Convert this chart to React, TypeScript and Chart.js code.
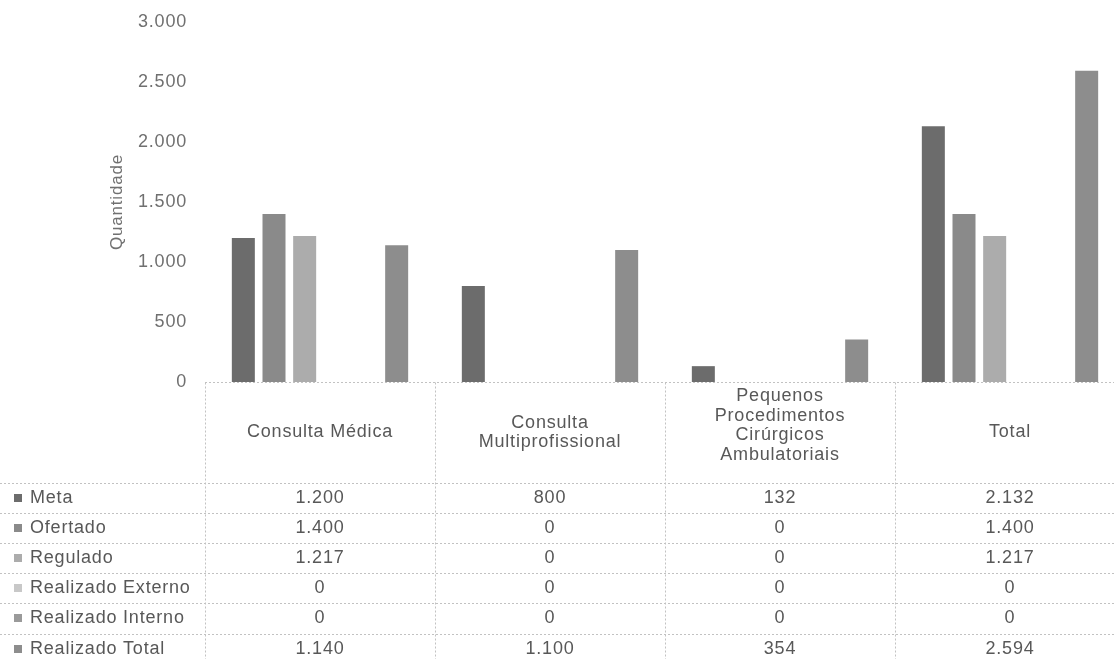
import React, { useEffect, useRef } from 'react';
import { Chart, registerables } from 'chart.js';

Chart.register(...registerables);

// ---- data ----
const categoryLines: string[][] = [
  ['Consulta Médica'],
  ['Consulta', 'Multiprofissional'],
  ['Pequenos', 'Procedimentos', 'Cirúrgicos', 'Ambulatoriais'],
  ['Total'],
];
const seriesNames = ['Meta', 'Ofertado', 'Regulado', 'Realizado Externo', 'Realizado Interno', 'Realizado Total'];
const metaValues = [1200, 800, 132, 2132];
const ofertadoValues = [1400, 0, 0, 1400];
const reguladoValues = [1217, 0, 0, 1217];
const realizadoExternoValues = [0, 0, 0, 0];
const realizadoInternoValues = [0, 0, 0, 0];
const realizadoTotalValues = [1140, 1100, 354, 2594];
const seriesValues = [metaValues, ofertadoValues, reguladoValues, realizadoExternoValues, realizadoInternoValues, realizadoTotalValues];
const seriesColors = ['#6c6c6c', '#8a8a8a', '#acacac', '#c8c8c8', '#9a9a9a', '#8d8d8d'];
const yMin = 0;
const yMax = 3000;
const yStep = 500;
const yTitle = 'Quantidade';

const FONT = '"Liberation Sans", Arial, sans-serif';
const TEXT_COLOR = '#585858';
const TICK_COLOR = '#707070';
const LINE_COLOR = '#c2c2c2';

function fmt(n: number): string {
  return String(n).replace(/\B(?=(\d{3})+(?!\d))/g, '.');
}

const HEADER_H = 100;
const ROW_H = 30.2;

const spacingPlugin = {
  id: 'spacing',
  beforeDraw(chart: any) {
    (chart.ctx as any).letterSpacing = '0.8px';
  },
};

const tablePlugin = {
  id: 'dataTable',
  afterDraw(chart: any) {
    const ctx: CanvasRenderingContext2D = chart.ctx;
    const area = chart.chartArea;
    const xs = chart.scales.x;
    const right = chart.width;
    const top = Math.round(area.bottom) + 0.5;
    const nRows = seriesNames.length;
    const bottom = top + HEADER_H + nRows * ROW_H;
    const colW = xs.getPixelForValue(1) - xs.getPixelForValue(0);

    const line = (x1: number, y1: number, x2: number, y2: number) => {
      ctx.beginPath();
      ctx.moveTo(x1, y1);
      ctx.lineTo(x2, y2);
      ctx.stroke();
    };

    ctx.save();
    (ctx as any).letterSpacing = '0.8px';
    ctx.strokeStyle = LINE_COLOR;
    ctx.lineWidth = 1;
    ctx.setLineDash([2, 2]);
    line(area.left, top, right, top);
    for (let r = 0; r <= nRows; r++) {
      const y = Math.round(top + HEADER_H + r * ROW_H) + 0.5;
      line(0, y, right, y);
    }
    for (let i = 0; i < categoryLines.length; i++) {
      const xb = Math.round(xs.getPixelForValue(i) - colW / 2) + 0.5;
      line(xb, top, xb, bottom);
    }
    ctx.setLineDash([]);

    ctx.fillStyle = TEXT_COLOR;
    ctx.font = `18px ${FONT}`;
    ctx.textAlign = 'center';
    ctx.textBaseline = 'middle';
    const lh = 19.5;
    categoryLines.forEach((lines, i) => {
      const cx = xs.getPixelForValue(i);
      const center = top + 50 - Math.max(0, lines.length - 2) * 3.5;
      const y0 = center - ((lines.length - 1) * lh) / 2;
      lines.forEach((t, k) => ctx.fillText(t, cx, y0 + k * lh));
    });

    seriesNames.forEach((name, r) => {
      const cy = top + HEADER_H + r * ROW_H + ROW_H / 2;
      ctx.fillStyle = seriesColors[r];
      ctx.fillRect(14, Math.round(cy - 4), 8, 8);
      ctx.fillStyle = TEXT_COLOR;
      ctx.textAlign = 'left';
      ctx.fillText(name, 30, cy);
      ctx.textAlign = 'center';
      seriesValues[r].forEach((v, i) => {
        ctx.fillText(fmt(v), xs.getPixelForValue(i), cy);
      });
    });
    ctx.restore();
  },
};

export default function App() {
  const canvasRef = useRef<HTMLCanvasElement | null>(null);

  useEffect(() => {
    const canvas = canvasRef.current;
    if (!canvas) return;
    const chart = new Chart(canvas, {
      type: 'bar',
      data: {
        labels: categoryLines.map((l) => l.join(' ')),
        datasets: seriesNames.map((name, i) => ({
          label: name,
          data: seriesValues[i],
          backgroundColor: seriesColors[i],
          borderWidth: 0,
          categoryPercentage: 0.8,
          barPercentage: 0.75,
        })),
      },
      options: {
        animation: false,
        responsive: false,
        maintainAspectRatio: false,
        devicePixelRatio: 1,
        layout: { padding: { left: 107, top: 22, right: 0, bottom: 288 } },
        plugins: { legend: { display: false }, tooltip: { enabled: false } },
        scales: {
          x: { display: false, offset: true, grid: { display: false } },
          y: {
            min: yMin,
            max: yMax,
            grid: { display: false, drawTicks: false },
            border: { display: false },
            ticks: {
              stepSize: yStep,
              padding: 18,
              color: TICK_COLOR,
              font: { family: FONT, size: 18 },
              callback: (v: any) => fmt(Number(v)),
            },
            title: {
              display: true,
              text: yTitle,
              color: TICK_COLOR,
              font: { family: FONT, size: 17 },
              padding: 0,
            },
            afterFit: (s: any) => {
              s.width = 98;
              s.paddingTop = 0;
              s.paddingBottom = 0;
            },
          },
        },
      } as any,
      plugins: [spacingPlugin, tablePlugin],
    });
    return () => chart.destroy();
  }, []);

  return (
    <div
      style={{
        position: 'absolute',
        left: 0,
        top: 0,
        width: 1114,
        height: 659,
        overflow: 'hidden',
        background: '#ffffff',
      }}
    >
      <canvas ref={canvasRef} width={1125} height={670} style={{ display: 'block' }} />
    </div>
  );
}
